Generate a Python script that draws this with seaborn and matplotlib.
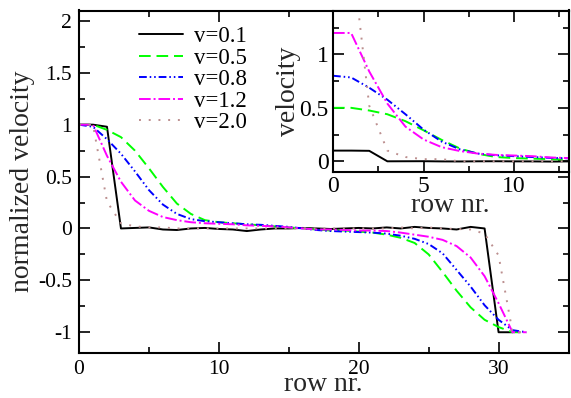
import numpy as np
import pandas as pd
import matplotlib
matplotlib.use("Agg")
import matplotlib.pyplot as plt
import seaborn as sns
from matplotlib.ticker import MultipleLocator

sns.set_theme(style="white")
plt.rcParams['font.family'] = ['Liberation Serif', 'DejaVu Serif']

rows = list(range(33))
labels = ["v=0.1", "v=0.5", "v=0.8", "v=1.2", "v=2.0"]
speeds = [0.1, 0.5, 0.8, 1.2, 2.0]

v01 = [1.0, 1.0, 0.98, 0.0, 0.005, 0.01, -0.01, -0.015, 0.0, 0.005, -0.005, -0.01,
       -0.025, -0.01, 0.0, 0.0, 0.005, 0.0, -0.005, 0.0, 0.005, 0.0, 0.01, 0.0,
       0.015, 0.005, 0.0, -0.01, 0.015, 0.0, -1.0, -1.0]
v05 = [1.0, 1.0, 0.95, 0.88, 0.75, 0.58, 0.40, 0.24, 0.14, 0.08, 0.06, 0.05, 0.04,
       0.03, 0.02, 0.01, 0.0, -0.01, -0.02, -0.02, -0.03, -0.04, -0.06, -0.09,
       -0.14, -0.25, -0.42, -0.60, -0.76, -0.88, -0.95, -1.0, -1.0]
v08 = [1.0, 0.98, 0.86, 0.72, 0.55, 0.37, 0.23, 0.14, 0.09, 0.07, 0.06, 0.05, 0.04,
       0.035, 0.025, 0.015, 0.0, -0.015, -0.025, -0.03, -0.035, -0.04, -0.05, -0.07,
       -0.10, -0.15, -0.24, -0.40, -0.56, -0.74, -0.88, -0.98, -1.0]
v12 = [1.0, 1.0, 0.70, 0.45, 0.27, 0.17, 0.11, 0.08, 0.06, 0.05, 0.045, 0.04, 0.03,
       0.025, 0.02, 0.01, 0.0, -0.01, -0.01, -0.015, -0.02, -0.02, -0.025, -0.04,
       -0.06, -0.08, -0.11, -0.17, -0.28, -0.46, -0.72, -1.0, -1.0]
v20 = [1.0, 1.0, 0.26, 0.05, 0.02, 0.01, 0.01, 0.0, 0.0, 0.0, 0.0, 0.0, 0.0,
       0.0, 0.0, 0.0, 0.0, 0.0, 0.0, 0.0, 0.0, 0.0, 0.0, 0.01,
       0.0, 0.01, 0.0, -0.005, -0.01, -0.05, -0.26, -1.0, -1.0]
series = [v01, v05, v08, v12, v20]

colors = ["black", "#00ff00", "#0000ff", "#ff00ff", "#bc8f8f"]
dashes = [None, (6, 3), (4, 1.5, 0.8, 1.5, 0.8, 1.5), (6, 1.5, 1, 1.5), (1, 4)]

W, H = 571, 398
fig = plt.figure(figsize=(W / 100, H / 100), dpi=100)
fig.patch.set_facecolor("white")

def frac(l, r, t, b):
    return [l / W, (H - b) / H, (r - l) / W, (b - t) / H]

ax = fig.add_axes(frac(79, 568.5, 10.5, 353))
axi = fig.add_axes(frac(333, 568.5, 10.5, 172))

lw = 1.4
for lab, vals, c, d in zip(labels, series, colors, dashes):
    df = pd.DataFrame({"row": rows[:len(vals)], "val": vals})
    sns.lineplot(data=df, x="row", y="val", ax=ax, color=c, lw=lw, label=lab)
    line = ax.get_lines()[-1]
    if d is not None:
        line.set_dashes(d)

for v, vals, c, d in zip(speeds, series, colors, dashes):
    n = 14
    df = pd.DataFrame({"row": rows[:n], "vel": [x * v for x in vals[:n]]})
    sns.lineplot(data=df, x="row", y="vel", ax=axi, color=c, lw=lw, legend=False)
    line = axi.get_lines()[-1]
    if d is not None:
        line.set_dashes(d)

for a in (ax, axi):
    a.set_facecolor("white")
    for s in a.spines.values():
        s.set_visible(True)
        s.set_color("black")
        s.set_linewidth(1.5)
    a.tick_params(which="both", direction="in", top=True, right=True,
                  bottom=True, left=True, colors="black", width=1.2)
    a.tick_params(which="major", length=8)
    a.tick_params(which="minor", length=4)

ax.set_xlim(0, 35)
ax.set_ylim(-1.2, 2.1)
ax.xaxis.set_minor_locator(MultipleLocator(5))
ax.yaxis.set_minor_locator(MultipleLocator(0.25))
ax.set_xticks([0, 10, 20, 30])
ax.set_xticklabels(["0", "10", "20", "30"])
ax.set_yticks([-1, -0.5, 0, 0.5, 1, 1.5, 2])
ax.set_yticklabels(["-1", "-0.5", "0", "0.5", "1", "1.5", "2"])
ax.tick_params(axis="both", which="major", labelsize=15.5, pad=5)
ax.set_xlabel("row nr.", fontsize=20, labelpad=-5)
ax.set_ylabel("normalized velocity", fontsize=20, labelpad=2)

axi.set_xlim(0, 13)
axi.set_ylim(-0.1, 1.41)
axi.xaxis.set_minor_locator(MultipleLocator(2.5))
axi.yaxis.set_minor_locator(MultipleLocator(0.25))
axi.set_xticks([0, 5, 10])
axi.set_xticklabels(["0", "5", "10"])
axi.set_yticks([0, 0.5, 1])
axi.set_yticklabels(["0", "0.5", "1"])
axi.tick_params(axis="both", which="major", labelsize=17, pad=3)
axi.set_xlabel("row nr.", fontsize=20, labelpad=-3)
axi.set_ylabel("velocity", fontsize=20, labelpad=-1)

leg = ax.legend(loc="upper left", bbox_to_anchor=(139 / W, (H - 26) / H),
                bbox_transform=fig.transFigure, frameon=False, fontsize=16.5,
                handlelength=1.9, handletextpad=0.48, labelspacing=0.02,
                borderpad=0, borderaxespad=0)
for t in leg.get_texts():
    t.set_color("black")

fig.savefig("out.png", dpi=100, facecolor="white")
